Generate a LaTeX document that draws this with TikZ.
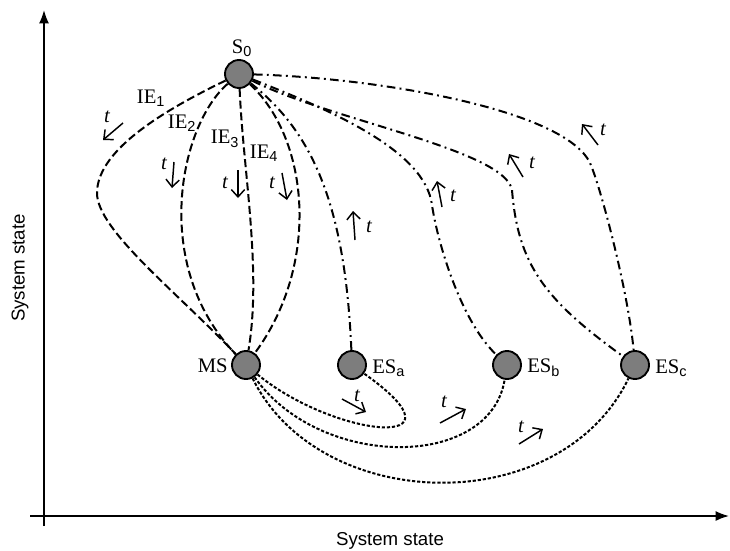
\documentclass[tikz,border=0pt]{standalone}
\usepackage{fontspec}
\setmainfont{Liberation Serif}
\setsansfont{Liberation Sans}
\usetikzlibrary{arrows.meta}
\definecolor{stfill}{RGB}{125,125,125}
\newcommand\mysub[1]{\textsubscript{\sffamily #1}}
\begin{document}
\begin{tikzpicture}[x=0.75pt,y=-0.75pt,
  state/.style={circle, draw=black, fill=stfill, line width=1.4pt, minimum size=21pt, inner sep=0pt},
  lbl/.style={font=\fontsize{15.5}{15.5}\selectfont, inner sep=0pt},
  tl/.style={font=\fontsize{15.5}{15.5}\selectfont\itshape, inner sep=0pt},
  axl/.style={font=\sffamily\fontsize{14}{14}\selectfont, inner sep=0pt},
  ie/.style={line width=1.5pt, dash pattern=on 6pt off 2.8pt},
  esl/.style={line width=1.5pt, dash pattern=on 6.5pt off 3.2pt on 1.4pt off 3.2pt},
  rtl/.style={line width=1.5pt, dash pattern=on 2.4pt off 1.4pt},
  tarr/.style={line width=1.1pt, -{Straight Barb[length=5.5pt,width=10pt,line width=1.1pt]}},
  axis/.style={line width=1.3pt, -{Latex[length=10pt,width=7.5pt]}}
]
\useasboundingbox (0,0) rectangle (730,550);

% axes
\coordinate (ybot) at (44,526);
\coordinate (ytop) at (44,10);
\coordinate (xleft) at (30,516);
\coordinate (xright) at (729,516);
\draw[axis] (ybot) -- (ytop);
\draw[axis] (xleft) -- (xright);
\node[axl, rotate=90] (ylab) at (20,268) {System state};
\node[axl] (xlab) at (390,541) {System state};

% states
\node[state] (S0) at (239,74) {};
\node[state] (MS) at (246,365) {};
\node[state] (ESa) at (352,365) {};
\node[state] (ESb) at (507,365) {};
\node[state] (ESc) at (635,365) {};

\node[lbl] (lS0) at (242,48) {S\mysub{0}};
\node[lbl, anchor=east] (lMS) at (228,366) {MS};
\node[lbl, anchor=west] (lESa) at (372,368) {ES\mysub{a}};
\node[lbl, anchor=west] (lESb) at (527,368) {ES\mysub{b}};
\node[lbl, anchor=west] (lESc) at (655,368) {ES\mysub{c}};

% intermediate points
\coordinate (k1) at (97,193);
\coordinate (k2) at (432,205);
\coordinate (k3) at (512,190);
\coordinate (k4) at (590,163);

% IE curves
\draw[ie] (S0) .. controls (171,107) and (97,148) .. (k1) .. controls (97,230) and (177,292) .. (MS);
\draw[ie] (S0) .. controls (180,125) and (150,265) .. (MS);
\draw[ie] (S0) .. controls (243,170) and (262,270) .. (MS);
\draw[ie] (S0) .. controls (310,140) and (320,265) .. (MS);

\node[lbl] (lIE1) at (151,98) {IE\mysub{1}};
\node[lbl] (lIE2) at (182,123) {IE\mysub{2}};
\node[lbl] (lIE3) at (225,139) {IE\mysub{3}};
\node[lbl] (lIE4) at (264,153) {IE\mysub{4}};

% ES curves
\draw[esl] (S0) .. controls (310,130) and (345,200) .. (ESa);
\draw[esl] (S0) .. controls (330,110) and (425,150) .. (k2) .. controls (437,240) and (460,320) .. (ESb);
\draw[esl] (S0) .. controls (330,120) and (505,150) .. (k3) .. controls (518,265) and (545,300) .. (ESc);
\draw[esl] (S0) .. controls (380,78) and (565,110) .. (k4) .. controls (600,185) and (628,290) .. (ESc);

% recovery curves
\draw[rtl] (MS) .. controls (335,438) and (475,452) .. (ESa);
\draw[rtl] (MS) .. controls (320,470) and (490,470) .. (ESb);
\draw[rtl] (MS) .. controls (320,515) and (560,520) .. (ESc);

% time arrows
\coordinate (a1s) at (123,123); \coordinate (a1e) at (103,140);
\coordinate (a2s) at (174,162); \coordinate (a2e) at (172,188);
\coordinate (a3s) at (238,170); \coordinate (a3e) at (238,198);
\coordinate (a4s) at (282,173); \coordinate (a4e) at (287,200);
\coordinate (a5s) at (355,240); \coordinate (a5e) at (353,211);
\coordinate (a6s) at (442,207); \coordinate (a6e) at (437,181);
\coordinate (a7s) at (523,177); \coordinate (a7e) at (509,154);
\coordinate (a8s) at (598,145); \coordinate (a8e) at (582,124);
\coordinate (a9s) at (342,399); \coordinate (a9e) at (366,412);
\coordinate (a10s) at (440,423); \coordinate (a10e) at (466,409);
\coordinate (a11s) at (519,444); \coordinate (a11e) at (543,429);
\foreach \i in {1,...,11} {\draw[tarr] (a\i s) -- (a\i e);}

\node[tl] (t1) at (107,117) {t};
\node[tl] (t2) at (164,164) {t};
\node[tl] (t3) at (225,183) {t};
\node[tl] (t4) at (272,183) {t};
\node[tl] (t5) at (369,227) {t};
\node[tl] (t6) at (453,196) {t};
\node[tl] (t7) at (532,163) {t};
\node[tl] (t8) at (603,130) {t};
\node[tl] (t9) at (357,396) {t};
\node[tl] (t10) at (444,402) {t};
\node[tl] (t11) at (521,427) {t};
\end{tikzpicture}
\end{document}
